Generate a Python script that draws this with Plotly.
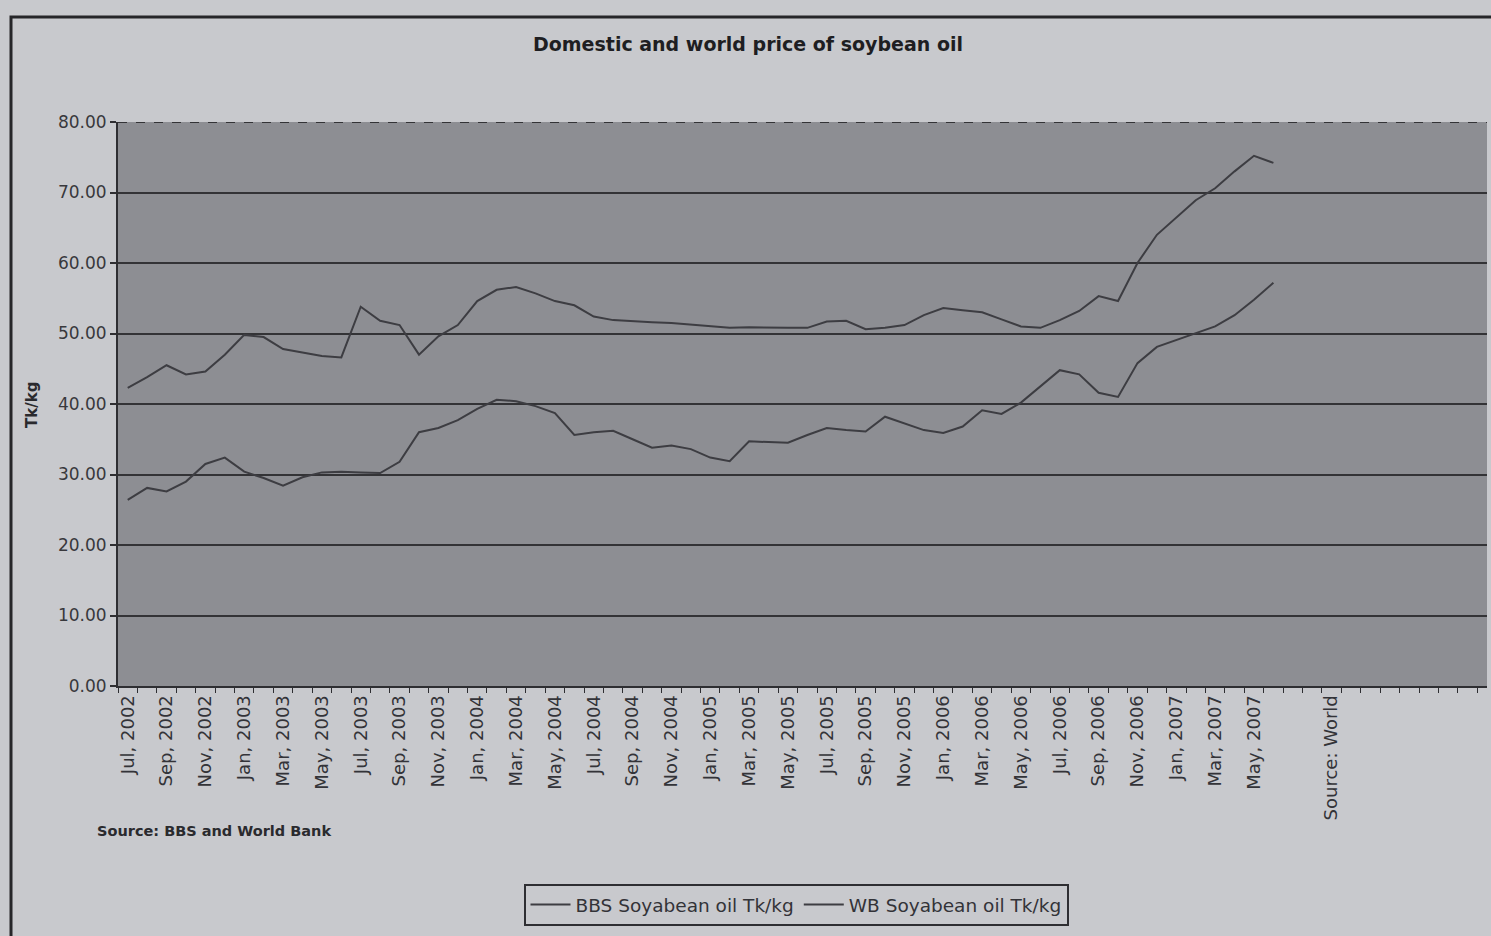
import plotly.graph_objects as go

# Month labels (category axis), Jul 2002 .. Jun 2007, plus trailing note category
months = [
    "Jul, 2002", "Aug, 2002", "Sep, 2002", "Oct, 2002", "Nov, 2002", "Dec, 2002",
    "Jan, 2003", "Feb, 2003", "Mar, 2003", "Apr, 2003", "May, 2003", "Jun, 2003",
    "Jul, 2003", "Aug, 2003", "Sep, 2003", "Oct, 2003", "Nov, 2003", "Dec, 2003",
    "Jan, 2004", "Feb, 2004", "Mar, 2004", "Apr, 2004", "May, 2004", "Jun, 2004",
    "Jul, 2004", "Aug, 2004", "Sep, 2004", "Oct, 2004", "Nov, 2004", "Dec, 2004",
    "Jan, 2005", "Feb, 2005", "Mar, 2005", "Apr, 2005", "May, 2005", "Jun, 2005",
    "Jul, 2005", "Aug, 2005", "Sep, 2005", "Oct, 2005", "Nov, 2005", "Dec, 2005",
    "Jan, 2006", "Feb, 2006", "Mar, 2006", "Apr, 2006", "May, 2006", "Jun, 2006",
    "Jul, 2006", "Aug, 2006", "Sep, 2006", "Oct, 2006", "Nov, 2006", "Dec, 2006",
    "Jan, 2007", "Feb, 2007", "Mar, 2007", "Apr, 2007", "May, 2007", "Jun, 2007",
]
note_category = "Source: World"
note_index = 62
n_categories = 70.5

# Domestic price (BBS), Tk/kg
bbs_soybean = [
    42.3, 43.8, 45.5, 44.2, 44.6, 47.0, 49.8, 49.5, 47.8, 47.3, 46.8, 46.6,
    53.8, 51.8, 51.2, 47.0, 49.6, 51.2, 54.6, 56.2, 56.6, 55.7, 54.6, 54.0,
    52.4, 51.9, 51.7, 51.6, 51.5, 51.3, 51.0, 50.8, 50.9, 50.8, 50.8, 50.8,
    51.7, 51.8, 50.6, 50.8, 51.2, 52.6, 53.6, 53.3, 53.0, 52.0, 51.0, 50.8,
    51.9, 53.2, 55.3, 54.6, 60.0, 64.0, 66.4, 68.9, 70.6, 73.0, 75.2, 74.2,
]

# World price (World Bank), Tk/kg
wb_soybean = [
    26.4, 28.1, 27.6, 29.0, 31.5, 32.4, 30.4, 29.5, 28.4, 29.6, 30.3, 30.4,
    30.3, 30.2, 31.8, 36.0, 36.6, 37.7, 39.3, 40.6, 40.4, 39.7, 38.7, 35.6,
    36.0, 36.2, 35.0, 33.8, 34.1, 33.6, 32.4, 31.9, 34.7, 34.6, 34.5, 35.6,
    36.6, 36.3, 36.1, 38.2, 37.2, 36.3, 35.9, 36.8, 39.1, 38.6, 40.2, 42.5,
    44.8, 44.2, 41.6, 41.0, 45.8, 48.1, 49.1, 50.1, 51.0, 52.6, 54.8, 57.2,
]

y_ticks = [0, 10, 20, 30, 40, 50, 60, 70, 80]

x_idx = list(range(len(months)))
tick_vals = x_idx[::2] + [note_index]
tick_text = months[::2] + [note_category]

INK = "#2e2e32"
LINE = "#3d3d42"
PAPER = "#c8c9cd"
PLOT = "#8d8e93"
FONT = "DejaVu Sans"

fig = go.Figure()
fig.add_trace(go.Scatter(
    x=x_idx, y=bbs_soybean, mode="lines", name="BBS Soyabean oil Tk/kg",
    line=dict(color=LINE, width=2),
))
fig.add_trace(go.Scatter(
    x=x_idx, y=wb_soybean, mode="lines", name="WB Soyabean oil Tk/kg",
    line=dict(color=LINE, width=2),
))

W, H = 1491, 936
L, R, T, B = 118, 4, 122, 250
pw, ph = W - L - R, H - T - B


def px_x(px):
    return (px - L) / pw


def px_y(py):
    return (H - B - py) / ph


fig.update_layout(
    width=W, height=H,
    margin=dict(l=L, r=R, t=T, b=B),
    paper_bgcolor=PAPER,
    plot_bgcolor=PLOT,
    font=dict(family=FONT, color=INK),
    title=dict(
        text="<b>Domestic and world price of soybean oil</b>",
        x=748 / W, xanchor="center",
        y=1 - 44 / H, yanchor="middle", yref="container",
        font=dict(size=19, color="#1e1e22"),
    ),
    showlegend=True,
    legend=dict(
        orientation="h",
        x=px_x(796), xanchor="center",
        y=px_y(905), yanchor="middle",
        bgcolor="rgba(0,0,0,0)",
        bordercolor=INK, borderwidth=2,
        font=dict(size=18.5, color="#333338"),
        itemwidth=40,
    ),
    xaxis=dict(
        range=[-0.5, n_categories - 0.5],
        tickmode="array", tickvals=tick_vals, ticktext=tick_text,
        tickangle=-90, ticks="",
        tickfont=dict(size=18, color="#333338"),
        showgrid=False, zeroline=False,
        showline=True, linecolor=INK, linewidth=2,
        minor=dict(ticks="outside", tick0=-0.5, dtick=1, ticklen=5,
                   tickcolor=INK, tickwidth=1, showgrid=False),
    ),
    yaxis=dict(
        range=[0, 80],
        tickmode="array", tickvals=y_ticks,
        tickformat=".2f",
        ticks="outside", ticklen=6, tickcolor=INK, tickwidth=2,
        tickfont=dict(size=17, color="#38383c"),
        showgrid=True, gridcolor="#333336", gridwidth=2,
        zeroline=False,
        showline=True, linecolor=INK, linewidth=2,
    ),
    shapes=[
        dict(type="rect", xref="paper", yref="paper",
             x0=px_x(11), x1=px_x(1510), y0=px_y(960), y1=px_y(17),
             line=dict(color="#262629", width=3), fillcolor="rgba(0,0,0,0)",
             layer="below"),
        dict(type="line", xref="paper", yref="y",
             x0=0, x1=1, y0=80, y1=80,
             line=dict(color="#333336", width=2, dash="dash")),
    ],
    annotations=[
        dict(text="<b>Tk/kg</b>", xref="paper", yref="paper",
             x=px_x(32), y=px_y(405), textangle=-90, showarrow=False,
             font=dict(size=15, color="#2a2a2e"),
             xanchor="center", yanchor="middle"),
        dict(text="<b>Source: BBS and World Bank</b>", xref="paper", yref="paper",
             x=px_x(95), y=px_y(831), showarrow=False,
             font=dict(size=14.5, color="#2a2a2e"),
             xanchor="left", yanchor="middle"),
    ],
)

fig.write_html("out.html")
